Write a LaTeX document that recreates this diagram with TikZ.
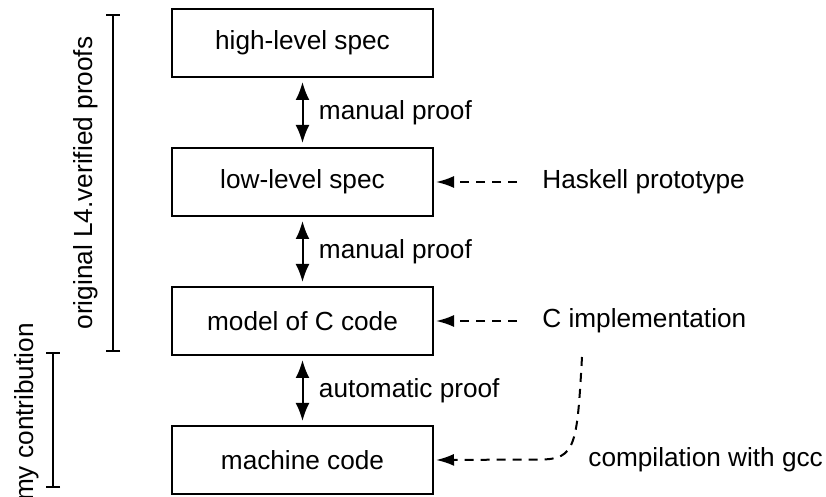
\documentclass[tikz,border=0pt]{standalone}
\usepackage{fontspec}
\setmainfont{Liberation Sans}
\usetikzlibrary{arrows.meta}

\tikzset{
  level/.style={draw=black, line width=1pt, minimum width=130.5pt, minimum height=34pt, inner sep=0pt},
  remark/.style={anchor=west, inner sep=0pt},
  refines/.style={{Latex[length=9pt,width=7pt]}-{Latex[length=9pt,width=7pt]}, line width=1pt, shorten <=2pt, shorten >=2pt},
  feeds/.style={-{Latex[length=9pt,width=6pt]}, line width=1pt, dash pattern=on 4.5pt off 3.5pt, shorten >=1pt},
  span/.style={{Bar[width=7pt]}-{Bar[width=7pt]}, line width=1pt},
  spanlabel/.style={rotate=90, anchor=base, inner sep=0pt}
}

\begin{document}
\begin{tikzpicture}[x=0.5pt, y=-0.5pt, font=\fontsize{13.1}{15.7}\selectfont]
  \useasboundingbox (0,0) rectangle (826,497);

  \node[level] (highLevelSpec) at (302.5,43) {high-level spec};
  \node[level] (lowLevelSpec) at (302.5,182) {low-level spec};
  \node[level] (modelOfCCode) at (302.5,321) {model of C code};
  \node[level] (machineCode) at (302.5,460) {machine code};

  \node[remark] (haskellPrototype) at (542,182) {Haskell prototype};
  \node[remark] (cImplementation) at (542,321) {C implementation};
  \node[remark] (compilationWithGcc) at (588,460) {compilation with gcc};
  \coordinate (gccStart) at (582,357);

  \path [refines] (highLevelSpec) edge node[right=4.4pt] {manual proof} (lowLevelSpec);
  \path [refines] (lowLevelSpec) edge node[right=4.4pt] {manual proof} (modelOfCCode);
  \path [refines] (modelOfCCode) edge node[right=4.4pt] {automatic proof} (machineCode);

  \draw [feeds, shorten <=12.5pt] (haskellPrototype.west) -- (lowLevelSpec.east);
  \draw [feeds, shorten <=12.5pt] (cImplementation.west) -- (modelOfCCode.east);
  \draw [feeds] (gccStart) .. controls (577,445) and (576,459.5) .. (540,459.5) -- (machineCode.east);

  % proof brackets on the left
  \coordinate (proofsTop) at (113,14);
  \coordinate (proofsBottom) at (113,352);
  \coordinate (contribTop) at (53,352);
  \coordinate (contribBottom) at (53,488);
  \draw [span] (proofsTop) -- (proofsBottom);
  \draw [span] (contribTop) -- (contribBottom);
  \node[spanlabel] (proofsLabel) at (92,183) {original L4.verified proofs};
  \node[spanlabel] (contribLabel) at (33,412) {my contribution};
\end{tikzpicture}
\end{document}
